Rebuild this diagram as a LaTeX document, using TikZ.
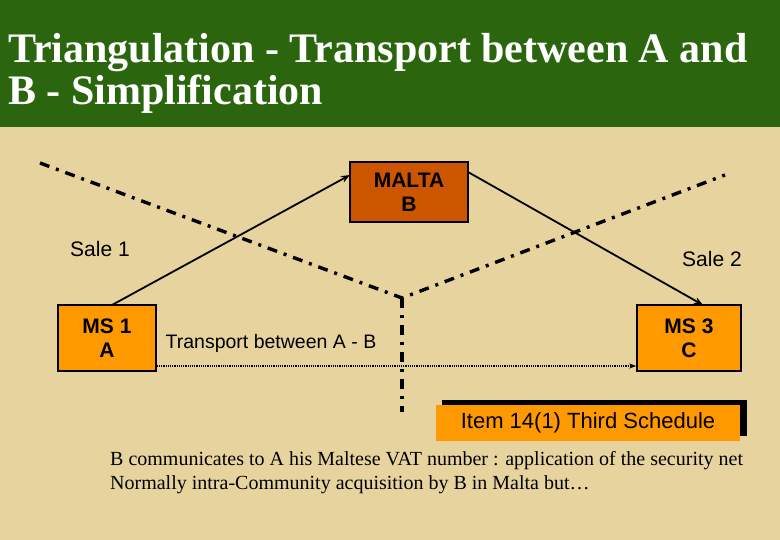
\documentclass[tikz,border=0pt]{standalone}
\usepackage{fontspec}
\setmainfont{Liberation Serif}
\setsansfont{Liberation Sans}
\usetikzlibrary{arrows.meta}
\definecolor{bg}{HTML}{E6D39E}
\definecolor{ttl}{HTML}{2B660F}
\definecolor{malta}{HTML}{CC5500}
\definecolor{ms}{HTML}{FF9900}
\tikzset{
 box/.style={draw=black,line width=1.5pt,align=center,font=\sffamily\bfseries\fontsize{21}{24}\selectfont,inner sep=0pt},
 ddline/.style={line width=3.4pt,dash pattern=on 10pt off 7pt on 3pt off 7pt},
 sale/.style={line width=1.8pt,-{Stealth[length=9pt,width=7pt]}},
 lbl/.style={font=\sffamily\fontsize{21}{24}\selectfont}
}
\begin{document}
\begin{tikzpicture}[x=1pt,y=-1pt]
\useasboundingbox (0,0) rectangle (780,540);
\fill[bg] (0,0) rectangle (780,540);
\fill[ttl] (0,0) rectangle (780,127);
\node[anchor=west,text=white,font=\bfseries\fontsize{42}{42}\selectfont,align=left,inner sep=0pt] (title) at (8,73) {Triangulation - Transport between A and\\B - Simplification};
\node[box,fill=malta,minimum width=118pt,minimum height=60pt] (malta) at (409,192) {MALTA\\B};
\node[box,fill=ms,minimum width=98pt,minimum height=66pt] (ms1) at (107,338) {MS 1\\A};
\node[box,fill=ms,minimum width=104pt,minimum height=66pt] (ms3) at (689,338) {MS 3\\C};
\coordinate (d1) at (40,163);
\coordinate (dm) at (402,298);
\coordinate (d2) at (725,175);
\coordinate (d3) at (402,412);
\draw[ddline] (d1) -- (dm) -- (d2);
\draw[ddline] (dm) -- (d3);
\draw[sale] (112,305) -- (350,175);
\draw[sale] (468,172) -- (703,305);
\draw[densely dotted,line width=1.2pt,-{Stealth[length=7pt,width=5pt]}] (ms1.east |- 0,366) -- (ms3.west |- 0,366);
\node[lbl] (s1) at (100,249) {Sale 1};
\node[lbl] (s2) at (712,259) {Sale 2};
\node[lbl,font=\sffamily\fontsize{19.5}{22}\selectfont] (tr) at (271,343) {Transport between A - B};
\fill[black] (442,400) rectangle (747,436);
\node[fill=ms,minimum width=304pt,minimum height=36pt,inner sep=0pt,font=\sffamily\fontsize{22}{26}\selectfont] (item) at (588,423) {Item 14(1) Third Schedule};
\node[anchor=north west,align=left,font=\fontsize{20}{24}\selectfont,inner sep=0pt] (txt) at (110,451) {B communicates to A his Maltese VAT number : application of the security net\\Normally intra-Community acquisition by B in Malta but\dots};
\end{tikzpicture}
\end{document}
